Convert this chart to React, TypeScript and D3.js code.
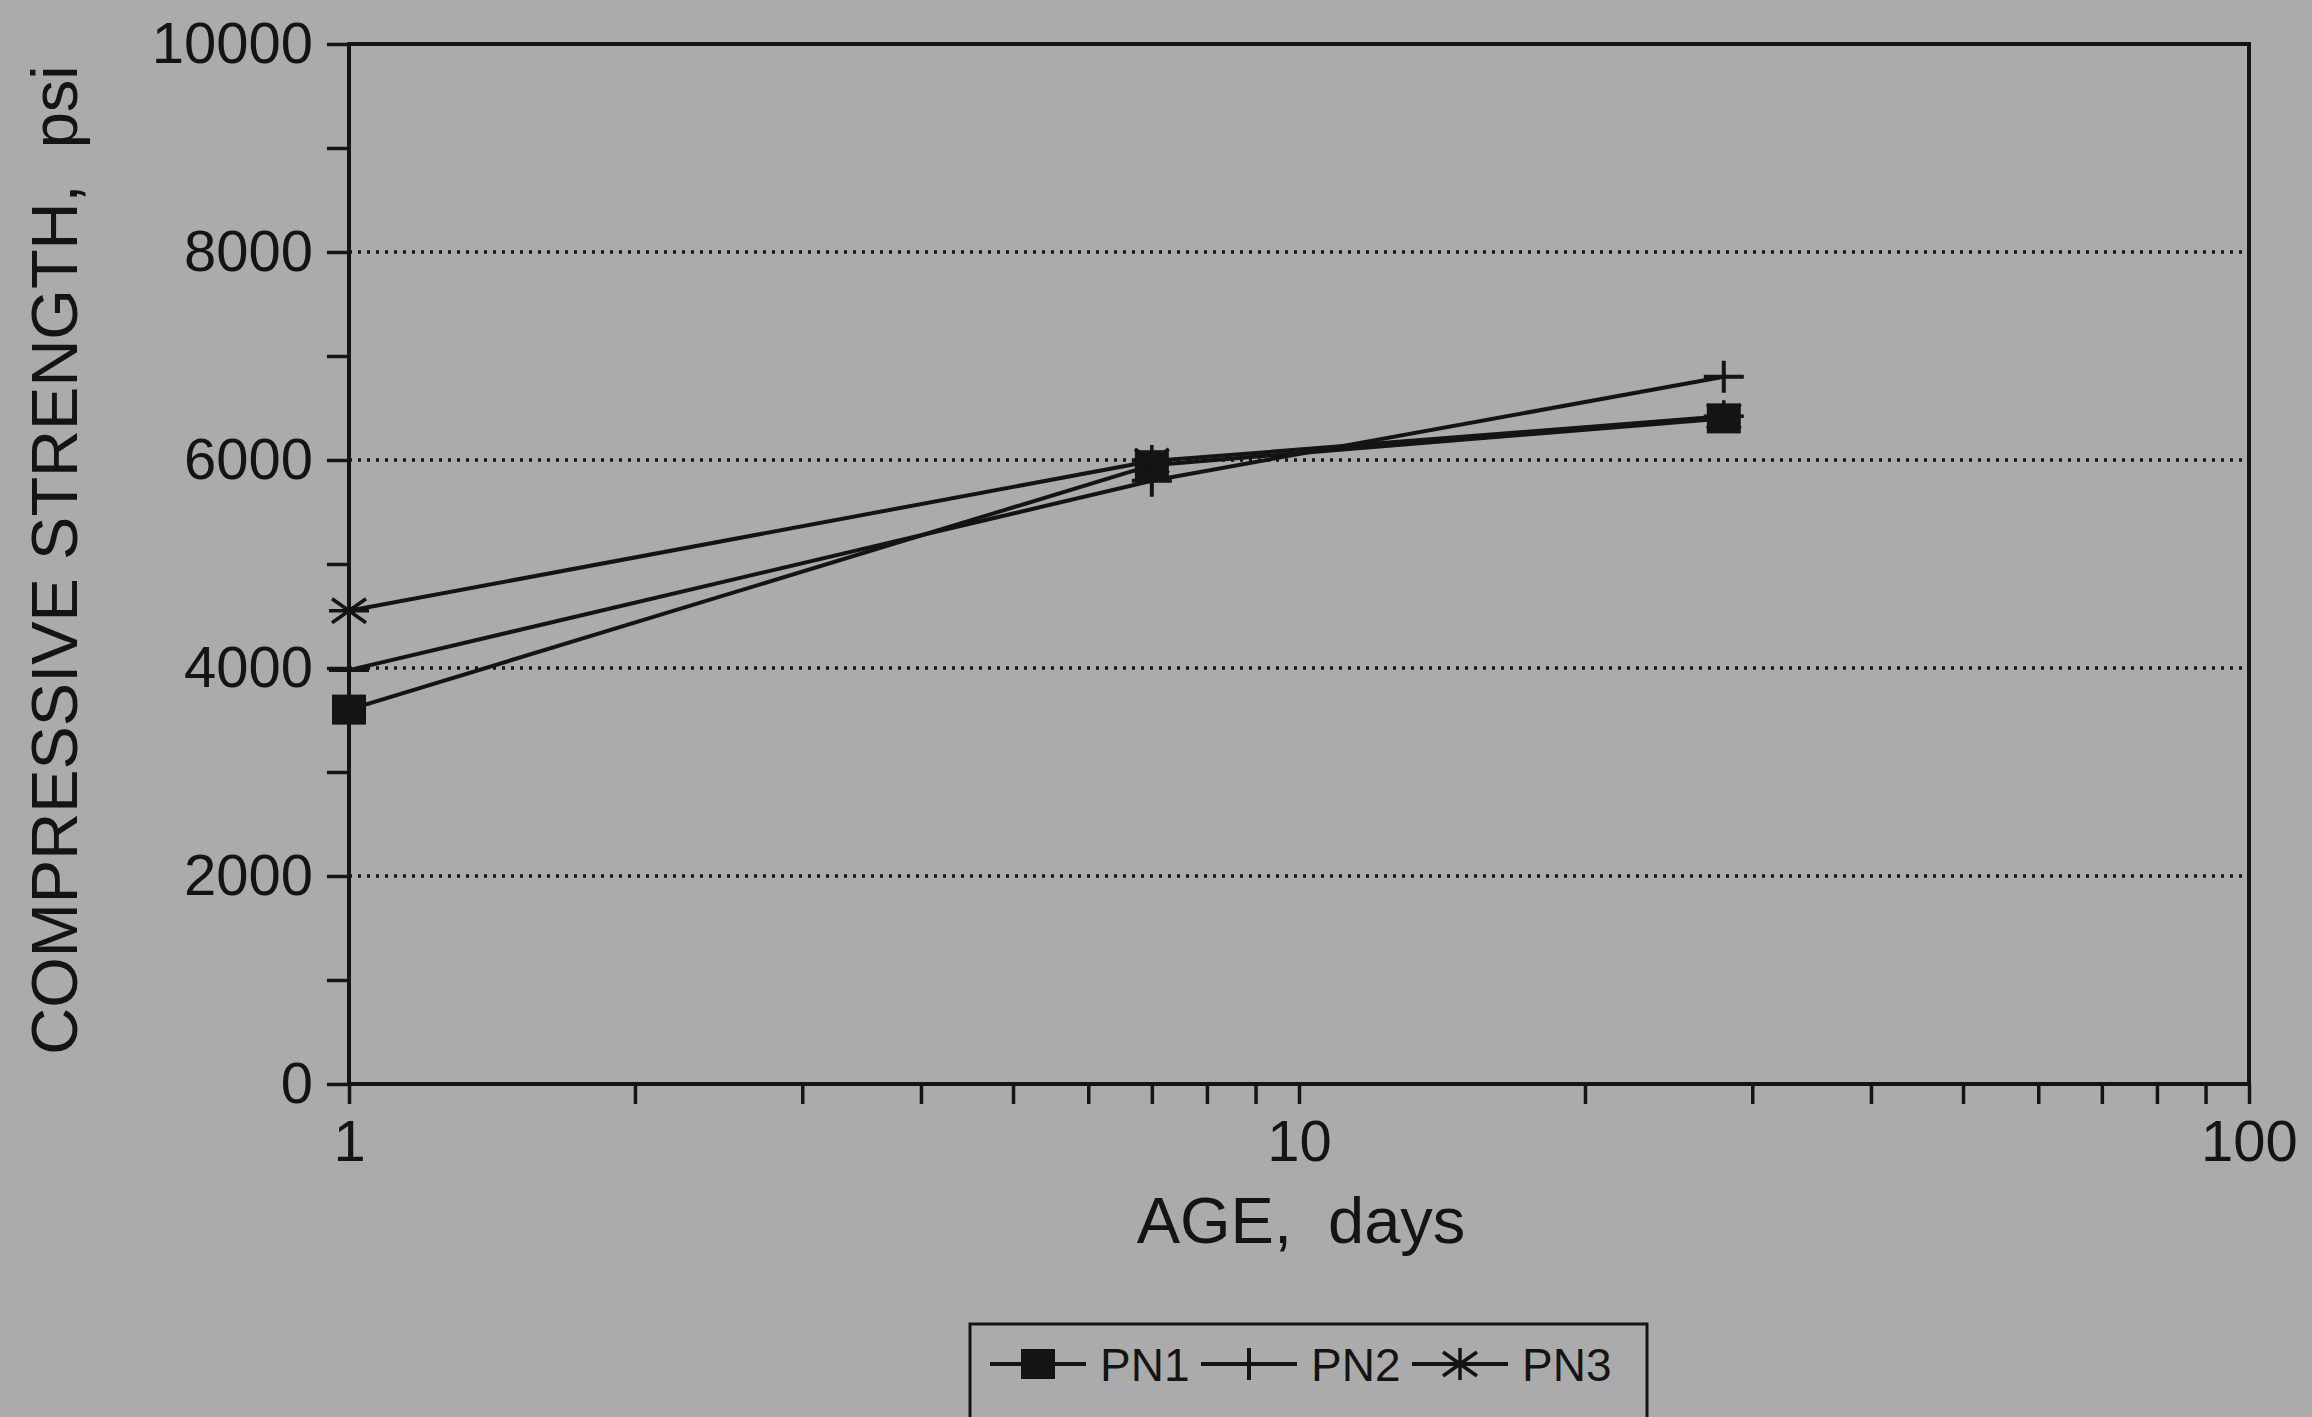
import React, { useEffect, useRef } from "react";
import * as d3 from "d3";

const ages = [1, 7, 28];
const pn1 = [3600, 5950, 6400];
const pn2 = [3980, 5800, 6800];
const pn3 = [4550, 5990, 6420];
const seriesNames = ["PN1", "PN2", "PN3"];

const yTickValues = [0, 1000, 2000, 3000, 4000, 5000, 6000, 7000, 8000, 9000, 10000];
const yLabelValues = [0, 2000, 4000, 6000, 8000, 10000];
const gridValues = [2000, 4000, 6000, 8000];
const xTickValues = [1, 2, 3, 4, 5, 6, 7, 8, 9, 10, 20, 30, 40, 50, 60, 70, 80, 90, 100];
const xLabelValues = [1, 10, 100];

const width = 2312;
const height = 1417;
const margin = { left: 349, right: 63, top: 44, bottom: 333 };
const font = '"Liberation Sans", Arial, Helvetica, sans-serif';
const ink = "#141414";
const bg = "#ababab";

function Marker({ kind, x, y }: { kind: number; x: number; y: number }) {
  if (kind === 0) {
    return <rect x={x - 17} y={y - 15} width={34} height={30} fill={ink} />;
  }
  if (kind === 1) {
    return (
      <path
        d={`M${x - 20},${y}H${x + 20}M${x},${y - 16}V${y + 16}`}
        stroke={ink}
        strokeWidth={4}
        fill="none"
      />
    );
  }
  return (
    <path
      d={`M${x - 20},${y}H${x + 20}M${x},${y - 16}V${y + 16}M${x - 17},${y - 12}L${x + 17},${y + 12}M${x - 17},${y + 12}L${x + 17},${y - 12}`}
      stroke={ink}
      strokeWidth={3.5}
      fill="none"
    />
  );
}

export default function App() {
  const xAxisRef = useRef<SVGGElement>(null);
  const yAxisRef = useRef<SVGGElement>(null);

  const xScale = d3.scaleLog().domain([1, 100]).range([margin.left, width - margin.right]);
  const yScale = d3.scaleLinear().domain([0, 10000]).range([height - margin.bottom, margin.top]);

  const series = [pn1, pn2, pn3];
  const line = d3
    .line<number>()
    .x((_, i) => xScale(ages[i]))
    .y((v) => yScale(v));

  useEffect(() => {
    const xAxis = d3
      .axisBottom(xScale)
      .tickValues(xTickValues)
      .tickSize(20)
      .tickSizeOuter(0)
      .tickPadding(16)
      .tickFormat((d) => (xLabelValues.includes(+d) ? String(d) : ""));
    const gx = d3.select(xAxisRef.current);
    gx.selectAll("*").remove();
    gx.call(xAxis as any);
    gx.select(".domain").remove();
    gx.selectAll("line").attr("stroke", ink).attr("stroke-width", 3.5);
    gx.selectAll("text").attr("fill", ink).style("font-size", "58px").style("font-family", font);

    const yAxis = d3
      .axisLeft(yScale)
      .tickValues(yTickValues)
      .tickSize(22)
      .tickSizeOuter(0)
      .tickPadding(14)
      .tickFormat((d) => (yLabelValues.includes(+d) ? String(d) : ""));
    const gy = d3.select(yAxisRef.current);
    gy.selectAll("*").remove();
    gy.call(yAxis as any);
    gy.select(".domain").remove();
    gy.selectAll("line").attr("stroke", ink).attr("stroke-width", 3.5);
    gy.selectAll("text").attr("fill", ink).style("font-size", "58px").style("font-family", font);
  }, []);

  const plotW = width - margin.left - margin.right;
  const plotH = height - margin.top - margin.bottom;
  const legendY = 1364;

  return (
    <div style={{ position: "fixed", left: 0, top: 0 }}>
      <svg width={width} height={height} style={{ display: "block", background: bg }}>
        <rect x={0} y={0} width={width} height={height} fill={bg} />

        {gridValues.map((v) => (
          <line
            key={v}
            x1={margin.left}
            x2={width - margin.right}
            y1={yScale(v)}
            y2={yScale(v)}
            stroke={ink}
            strokeWidth={3.5}
            strokeDasharray="3 6"
          />
        ))}

        {series.map((s, k) => (
          <path key={k} d={line(s) || ""} fill="none" stroke={ink} strokeWidth={4} />
        ))}
        {series.map((s, k) =>
          s.map((v, i) => <Marker key={`${k}-${i}`} kind={k} x={xScale(ages[i])} y={yScale(v)} />)
        )}

        <rect
          x={margin.left}
          y={margin.top}
          width={plotW}
          height={plotH}
          fill="none"
          stroke={ink}
          strokeWidth={4}
        />

        <g ref={xAxisRef} transform={`translate(0, ${height - margin.bottom})`} />
        <g ref={yAxisRef} transform={`translate(${margin.left}, 0)`} />

        <text
          x={1301}
          y={1243}
          textAnchor="middle"
          fontFamily={font}
          fontSize={65}
          fill={ink}
          xmlSpace="preserve"
        >
          AGE,  days
        </text>
        <text
          transform="translate(77, 560) rotate(-90)"
          textAnchor="middle"
          fontFamily={font}
          fontSize={65}
          fill={ink}
          xmlSpace="preserve"
        >
          COMPRESSIVE STRENGTH,  psi
        </text>

        <rect x={970} y={1324} width={677} height={160} fill="none" stroke={ink} strokeWidth={3} />
        {seriesNames.map((name, k) => {
          const cx = 1038 + k * 211;
          return (
            <g key={name}>
              <line x1={cx - 48} x2={cx + 48} y1={legendY} y2={legendY} stroke={ink} strokeWidth={4} />
              <Marker kind={k} x={cx} y={legendY} />
              <text x={cx + 62} y={legendY + 17} fontFamily={font} fontSize={46} fill={ink}>
                {name}
              </text>
            </g>
          );
        })}
      </svg>
    </div>
  );
}
